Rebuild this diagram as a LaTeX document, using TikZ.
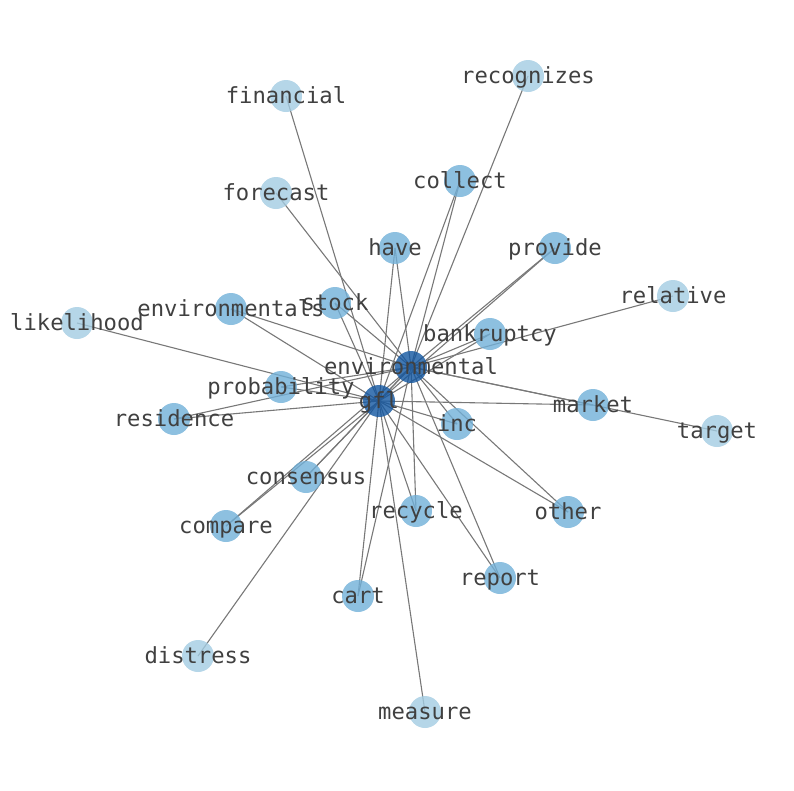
\documentclass[tikz,border=0pt]{standalone}
\usepackage{fontspec}
\newfontfamily\wordfont{DejaVu Sans Mono}
\usetikzlibrary{backgrounds}
\definecolor{hubblue}{RGB}{18,86,160}
\definecolor{midblue}{RGB}{113,176,216}
\definecolor{paleblue}{RGB}{163,204,226}
\definecolor{wordgray}{RGB}{64,64,64}
\definecolor{linkgray}{RGB}{120,120,120}
\tikzset{
  word/.style={circle,inner sep=0pt,minimum size=32,draw=none,fill opacity=0.8},
  hub/.style={word,fill=hubblue},
  pair/.style={word,fill=midblue},
  leaf/.style={word,fill=paleblue},
  wordlabel/.style={text=wordgray,inner sep=0pt,text height=18,text depth=3,
    font=\wordfont\fontsize{22.2}{26}\selectfont},
  link/.style={draw=linkgray,line width=1.1}
}
\begin{document}
\begin{tikzpicture}[x=1pt,y=-1pt]
\useasboundingbox (0,0) rectangle (794,790);
% circles
\foreach \w/\x/\y/\k in {environmental/411/367/hub, gfl/379/401/hub,
    recognizes/528/76/leaf, financial/286/96/leaf, collect/460/181/pair,
    forecast/276/193/leaf, have/395/248/pair, provide/555/248/pair,
    relative/673/296/leaf, stock/335/303/pair, environmentals/231/309/pair,
    likelihood/77/323/leaf, bankruptcy/490/334/pair, probability/281/387/pair,
    residence/174/419/pair, market/593/405/pair, target/717/431/leaf,
    inc/457/424/pair, consensus/306/477/pair, compare/226/526/pair,
    recycle/416/511/pair, other/568/512/pair, report/500/578/pair,
    cart/358/596/pair, distress/198/656/leaf, measure/425/712/leaf}
  \node[\k] (\w) at (\x,\y) {};
% edges
\begin{scope}[on background layer]
\draw[link] (environmental.center) -- (gfl.center);
\foreach \w in {collect,have,provide,stock,environmentals,bankruptcy,probability,
    residence,market,inc,consensus,compare,recycle,other,report,cart}{
  \draw[link] (environmental.center) -- (\w.center);
  \draw[link] (gfl.center) -- (\w.center);
  }
\foreach \w in {recognizes,forecast,relative,target}
  \draw[link] (environmental.center) -- (\w.center);
\foreach \w in {financial,likelihood,distress,measure}
  \draw[link] (gfl.center) -- (\w.center);
\end{scope}
% labels on top of all circles
\foreach \w in {environmental,gfl,recognizes,financial,collect,forecast,have,
    provide,relative,stock,environmentals,likelihood,bankruptcy,probability,
    residence,market,target,inc,consensus,compare,recycle,other,report,cart,
    distress,measure}
  \node[wordlabel] (\w-text) at (\w.center) {\w};
\end{tikzpicture}
\end{document}
